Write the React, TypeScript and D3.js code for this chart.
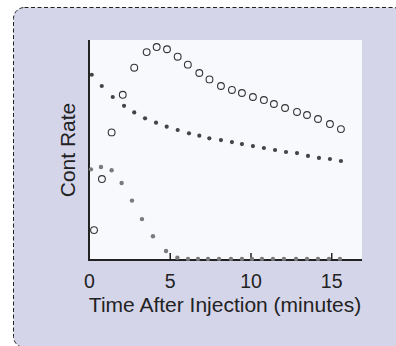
import React from "react";
import * as d3 from "d3";

const openTimes = [0.28, 0.77, 1.37, 2.06, 2.77, 3.54, 4.16, 4.8, 5.46, 6.09, 6.8, 7.43, 8.14, 8.82, 9.44, 10.12, 10.8, 11.42, 12.11, 12.85, 13.47, 14.15, 14.89, 15.57];
const openValues = [13.6, 36.8, 58.0, 75.1, 87.4, 94.5, 96.8, 95.8, 92.4, 88.8, 85.0, 82.1, 79.1, 77.3, 75.9, 74.1, 72.7, 70.9, 69.1, 67.3, 65.9, 64.1, 61.8, 59.5];

const darkTimes = [0.14, 0.76, 1.44, 2.14, 2.77, 3.44, 4.12, 4.78, 5.46, 6.16, 6.8, 7.42, 8.14, 8.82, 9.44, 10.12, 10.8, 11.49, 12.17, 12.85, 13.53, 14.21, 14.89, 15.57];
const darkValues = [84.2, 79.1, 74.1, 70.1, 67.1, 64.4, 62.4, 60.6, 59.1, 57.6, 56.5, 55.3, 54.5, 53.6, 52.7, 51.8, 50.9, 50.0, 49.1, 48.6, 47.3, 46.4, 45.9, 45.0];

const grayTimes = [0.09, 0.71, 1.37, 1.99, 2.63, 3.25, 3.93, 4.74, 5.44, 6.1, 6.72, 7.34, 8.02, 8.76, 9.44, 10.06, 10.68, 11.36, 12.04, 12.79, 13.47, 14.15, 14.83, 15.51];
const grayValues = [41.2, 42.3, 40.8, 35.0, 27.0, 18.6, 10.8, 4.1, 1.0, 0.5, 0.5, 0.5, 0.5, 0.5, 0.5, 0.5, 0.5, 0.5, 0.5, 0.5, 0.5, 0.5, 0.5, 0.5];

const xTicks = [0, 5, 10, 15];
const xTitle = "Time After Injection (minutes)";
const yTitle = "Cont Rate";

const W = 396;
const H = 346;
const font = "'Liberation Sans', Arial, Helvetica, sans-serif";

export default function App() {
  const plot = { left: 89, top: 40, right: 362, bottom: 260 };
  const x = d3.scaleLinear().domain([0, 16.9]).range([89.5, 362.4]);
  const y = d3.scaleLinear().domain([0, 100]).range([plot.bottom, plot.top]);

  return (
    <svg width={W} height={H} style={{ position: "absolute", left: 0, top: 0 }} fontFamily={font}>
      <rect x={13.5} y={7.5} width={390.5} height={340} rx={11} ry={11}
        fill="#d5d5ea" stroke="#222" strokeWidth={1} strokeDasharray="4,2.5" />
      <rect x={plot.left} y={plot.top} width={plot.right - plot.left} height={plot.bottom - plot.top} fill="#f8f9fd" />
      {/* axes */}
      <line x1={plot.left} x2={plot.left} y1={plot.top} y2={plot.bottom + 1} stroke="#222" strokeWidth={2} />
      <line x1={plot.left - 1} x2={plot.right} y1={plot.bottom} y2={plot.bottom} stroke="#222" strokeWidth={2} />
      {xTicks.filter((t) => t > 0).map((t) => (
        <line key={"tk" + t} x1={x(t)} x2={x(t)} y1={plot.bottom} y2={plot.bottom - 7} stroke="#222" strokeWidth={1.5} />
      ))}
      {xTicks.map((t) => (
        <text key={"tl" + t} x={x(t)} y={288} textAnchor="middle" fontSize={19.5} fill="#222">{t}</text>
      ))}
      <text x={(88 + 362) / 2} y={312} textAnchor="middle" fontSize={21} fill="#222">{xTitle}</text>
      <text transform={`translate(75,150) rotate(-90)`} textAnchor="middle" fontSize={21} fill="#222">{yTitle}</text>
      {/* series */}
      {grayTimes.map((t, i) => (
        <circle key={"g" + i} cx={x(t)} cy={y(grayValues[i])} r={2.2} fill="#7a7a7a" />
      ))}
      {darkTimes.map((t, i) => (
        <circle key={"d" + i} cx={x(t)} cy={y(darkValues[i])} r={2.1} fill="#444" />
      ))}
      {openTimes.map((t, i) => (
        <circle key={"o" + i} cx={x(t)} cy={y(openValues[i])} r={3.4} fill="none" stroke="#333" strokeWidth={1.1} />
      ))}
    </svg>
  );
}
